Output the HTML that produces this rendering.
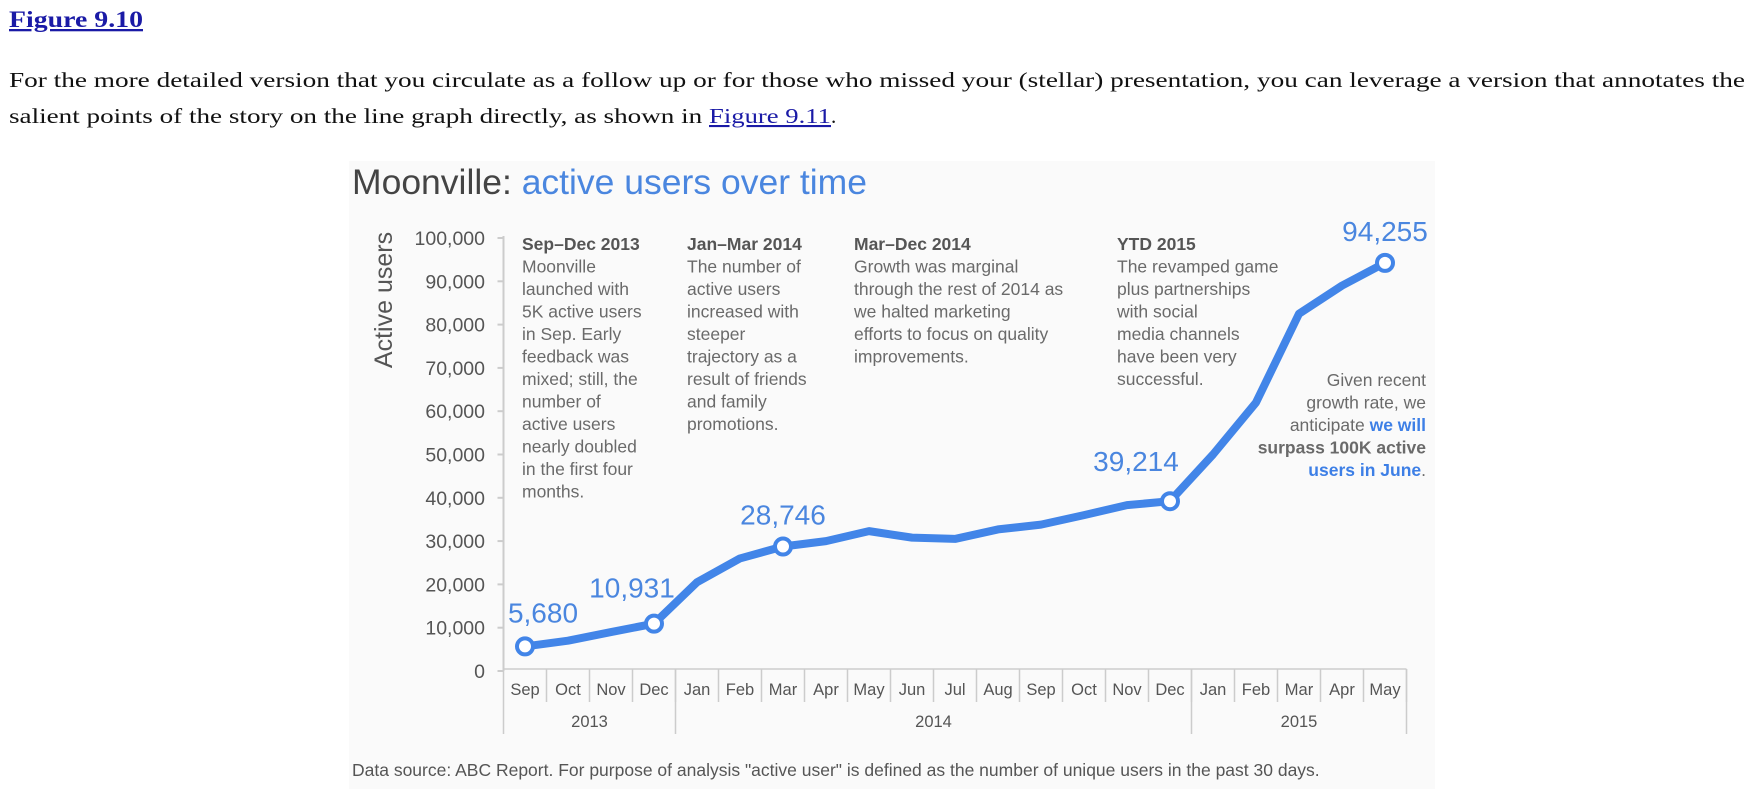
<!DOCTYPE html>
<html><head><meta charset="utf-8"><style>
html,body{margin:0;padding:0;background:#fff;}
svg{display:block;}
text{font-family:"Liberation Sans",Arial,sans-serif;}
.serif{font-family:"Liberation Serif",serif;}
.ann{font-size:17.5px;fill:#6a6a6a;}
.annb{font-size:17.5px;fill:#555;font-weight:bold;}
.tick{font-size:19.5px;fill:#555;}
.mon{font-size:16.5px;fill:#555;}
.val{font-size:28px;fill:#4a86df;}
</style></head><body>
<svg id="chart" width="1755" height="789" viewBox="0 0 1755 789">
  <a><text class="serif" x="9" y="27" font-size="23" font-weight="bold" fill="#1a1aa6" text-decoration="underline" textLength="134" lengthAdjust="spacingAndGlyphs">Figure 9.10</text></a>
  <text class="serif" x="9" y="87" font-size="21" fill="#111" textLength="1736" lengthAdjust="spacingAndGlyphs">For the more detailed version that you circulate as a follow up or for those who missed your (stellar) presentation, you can leverage a version that annotates the</text>
  <text class="serif" x="9" y="123" font-size="21" fill="#111"><tspan textLength="700" lengthAdjust="spacingAndGlyphs">salient points of the story on the line graph directly, as shown in </tspan><tspan fill="#1a1aa6" text-decoration="underline" textLength="122" lengthAdjust="spacingAndGlyphs">Figure 9.11</tspan>.</text>

  <rect x="349" y="161" width="1086" height="628" fill="#fafafa"/>
  <text x="352" y="194" font-size="35.5" fill="#444">Moonville: <tspan fill="#4a86df">active users over time</tspan></text>
  <text transform="translate(392,300) rotate(-90)" text-anchor="middle" font-size="25" fill="#555">Active users</text>

  <g id="yaxis"></g>
  <g id="xaxis"></g>

  <g>
    <text class="annb" x="522" y="250">Sep–Dec 2013</text>
    <text class="ann" x="522" y="272.5">Moonville</text>
    <text class="ann" x="522" y="295">launched with</text>
    <text class="ann" x="522" y="317.5">5K active users</text>
    <text class="ann" x="522" y="340">in Sep. Early</text>
    <text class="ann" x="522" y="362.5">feedback was</text>
    <text class="ann" x="522" y="385">mixed; still, the</text>
    <text class="ann" x="522" y="407.5">number of</text>
    <text class="ann" x="522" y="430">active users</text>
    <text class="ann" x="522" y="452.5">nearly doubled</text>
    <text class="ann" x="522" y="475">in the first four</text>
    <text class="ann" x="522" y="497.5">months.</text>
  </g>
  <g>
    <text class="annb" x="687" y="250">Jan–Mar 2014</text>
    <text class="ann" x="687" y="272.5">The number of</text>
    <text class="ann" x="687" y="295">active users</text>
    <text class="ann" x="687" y="317.5">increased with</text>
    <text class="ann" x="687" y="340">steeper</text>
    <text class="ann" x="687" y="362.5">trajectory as a</text>
    <text class="ann" x="687" y="385">result of friends</text>
    <text class="ann" x="687" y="407.5">and family</text>
    <text class="ann" x="687" y="430">promotions.</text>
  </g>
  <g>
    <text class="annb" x="854" y="250">Mar–Dec 2014</text>
    <text class="ann" x="854" y="272.5">Growth was marginal</text>
    <text class="ann" x="854" y="295">through the rest of 2014 as</text>
    <text class="ann" x="854" y="317.5">we halted marketing</text>
    <text class="ann" x="854" y="340">efforts to focus on quality</text>
    <text class="ann" x="854" y="362.5">improvements.</text>
  </g>
  <g>
    <text class="annb" x="1117" y="250">YTD 2015</text>
    <text class="ann" x="1117" y="272.5">The revamped game</text>
    <text class="ann" x="1117" y="295">plus partnerships</text>
    <text class="ann" x="1117" y="317.5">with social</text>
    <text class="ann" x="1117" y="340">media channels</text>
    <text class="ann" x="1117" y="362.5">have been very</text>
    <text class="ann" x="1117" y="385">successful.</text>
  </g>
  <g text-anchor="end">
    <text class="ann" x="1426" y="386">Given recent</text>
    <text class="ann" x="1426" y="408.5">growth rate, we</text>
    <text class="ann" x="1426" y="431">anticipate <tspan fill="#3d7fe6" font-weight="bold">we will</tspan></text>
    <text class="ann" x="1426" y="453.5" fill="#3d7fe6" font-weight="bold">surpass 100K active</text>
    <text class="ann" x="1426" y="476"><tspan fill="#3d7fe6" font-weight="bold">users in June</tspan>.</text>
  </g>

  <g id="series"></g>

  <text x="352" y="776" font-size="17.5" fill="#555">Data source: ABC Report. For purpose of analysis "active user" is defined as the number of unique users in the past 30 days.</text>
</svg>
<script>
const months = ["Sep","Oct","Nov","Dec","Jan","Feb","Mar","Apr","May","Jun","Jul","Aug","Sep","Oct","Nov","Dec","Jan","Feb","Mar","Apr","May"];
const activeUsers = [5680,7000,9000,10931,20500,26000,28746,30000,32300,30800,30500,32700,33800,36000,38300,39214,50000,62000,82500,89000,94255];
const years = ["2013","2014","2015"];
const yearMonthCounts = [4,12,5];
const yTicks = [0,10000,20000,30000,40000,50000,60000,70000,80000,90000,100000];
const labeledIdx = [0,3,6,15,20];

const NS = "http://www.w3.org/2000/svg";
const axisX = 503.5, x0 = 525, step = 43;
const yBase = 671, yPer = 0.00433;
function xs(i){ return x0 + i*step; }
function ys(v){ return yBase - v*yPer; }
function mk(tag, attrs, parent){ const e=document.createElementNS(NS,tag); for(const k in attrs) e.setAttribute(k,attrs[k]); parent.appendChild(e); return e; }

const ya = document.getElementById('yaxis');
mk('line',{x1:axisX,y1:ys(100000)-2,x2:axisX,y2:yBase,stroke:'#ccc','stroke-width':2},ya);
yTicks.forEach(v=>{
  const t = mk('line',{x1:axisX-6,y1:ys(v),x2:axisX,y2:ys(v),stroke:'#ccc','stroke-width':2},ya);
  
  
  const l = mk('text',{x:485,y:ys(v)+7,'text-anchor':'end',class:'tick'},ya);
  l.textContent = v.toLocaleString('en-US');
  
  
});

const xa = document.getElementById('xaxis');
const xEnd = xs(months.length-1)+step/2;
mk('line',{x1:axisX,y1:yBase-2,x2:xEnd,y2:yBase-2,stroke:'#ccc','stroke-width':1.5},xa);
months.forEach((m,i)=>{
  const d = mk('line',{x1:xs(i)+step/2,y1:yBase-2,x2:xs(i)+step/2,y2:702,stroke:'#ccc','stroke-width':1.5},xa);
  
  
  const t = mk('text',{x:xs(i),y:695,'text-anchor':'middle',class:'mon'},xa);
  t.textContent = m;
  
  
});
let start = 0;
mk('line',{x1:axisX,y1:yBase-2,x2:axisX,y2:734,stroke:'#ccc','stroke-width':1.5},xa);
years.forEach((y,k)=>{
  const n = yearMonthCounts[k];
  const left = xs(start)-step/2, right = xs(start+n-1)+step/2;
  const s = mk('line',{x1:right,y1:yBase-2,x2:right,y2:734,stroke:'#ccc','stroke-width':1.5},xa);
  
  
  const t = mk('text',{x:(left+right)/2,y:727,'text-anchor':'middle',class:'mon'},xa);
  t.textContent = y;
  
  
  start += n;
});

const sg = document.getElementById('series');
const path = mk('polyline',{points:activeUsers.map((v,i)=>xs(i)+','+ys(v)).join(' '),fill:'none',stroke:'#4285e8','stroke-width':8,'stroke-linejoin':'round','stroke-linecap':'round'},sg);


const labelOffsets = {0:[18,-34],3:[-22,-36],6:[0,-32],15:[-34,-40],20:[0,-32]};
labeledIdx.forEach(i=>{
  const c = mk('circle',{cx:xs(i),cy:ys(activeUsers[i]),r:8,fill:'#fff',stroke:'#4285e8','stroke-width':4},sg);
  
  
  const o = labelOffsets[i];
  const t = mk('text',{x:xs(i)+o[0],y:ys(activeUsers[i])+o[1]+10,'text-anchor':'middle',class:'val'},sg);
  t.textContent = activeUsers[i].toLocaleString('en-US');
  
  
});
</script>
</body></html>
